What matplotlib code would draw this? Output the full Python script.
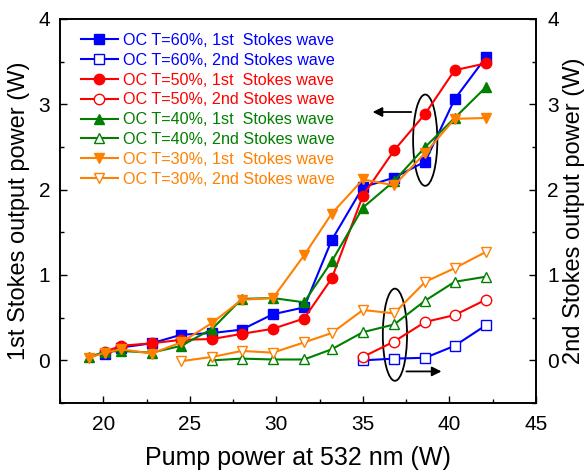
import matplotlib
matplotlib.use("Agg")
import matplotlib.pyplot as plt
from matplotlib.patches import Ellipse
from matplotlib.ticker import MultipleLocator

plt.rcParams['font.family'] = ['Liberation Sans', 'DejaVu Sans']

# pump power (W)
x_all = [19.2, 20.1, 21.0, 22.8, 24.5, 26.3, 28.0, 29.8, 31.6, 33.2, 35.0, 36.8, 38.6, 40.3, 42.1]

# 1st Stokes (left axis)
x_t60_1 = x_all[1:]
y_t60_1 = [0.07, 0.15, 0.20, 0.30, 0.32, 0.36, 0.54, 0.62, 1.41, 2.03, 2.14, 2.33, 3.06, 3.55]
x_t50_1 = x_all[1:]
y_t50_1 = [0.10, 0.17, 0.20, 0.24, 0.25, 0.31, 0.37, 0.49, 0.96, 1.93, 2.46, 2.89, 3.40, 3.48]
x_t40_1 = x_all
y_t40_1 = [0.04, 0.10, 0.11, 0.09, 0.17, 0.37, 0.72, 0.73, 0.68, 1.16, 1.79, 2.10, 2.50, 2.84, 3.20]
x_t30_1 = x_all
y_t30_1 = [0.03, 0.09, 0.13, 0.08, 0.21, 0.44, 0.71, 0.73, 1.23, 1.72, 2.12, 2.05, 2.43, 2.83, 2.84]

# 2nd Stokes (right axis)
x_t60_2 = [35.0, 36.8, 38.6, 40.3, 42.1]
y_t60_2 = [0.00, 0.02, 0.03, 0.17, 0.41]
x_t50_2 = [35.0, 36.8, 38.6, 40.3, 42.1]
y_t50_2 = [0.04, 0.22, 0.45, 0.53, 0.71]
x_t40_2 = [26.3, 28.0, 29.8, 31.6, 33.2, 35.0, 36.8, 38.6, 40.3, 42.1]
y_t40_2 = [0.00, 0.02, 0.01, 0.01, 0.13, 0.33, 0.42, 0.70, 0.92, 0.98]
x_t30_2 = [24.5, 26.3, 28.0, 29.8, 31.6, 33.2, 35.0, 36.8, 38.6, 40.3, 42.1]
y_t30_2 = [-0.01, 0.04, 0.11, 0.09, 0.21, 0.32, 0.59, 0.55, 0.92, 1.08, 1.27]

labels = ['OC T=60%, 1st  Stokes wave', 'OC T=60%, 2nd Stokes wave',
          'OC T=50%, 1st  Stokes wave', 'OC T=50%, 2nd Stokes wave',
          'OC T=40%, 1st  Stokes wave', 'OC T=40%, 2nd Stokes wave',
          'OC T=30%, 1st  Stokes wave', 'OC T=30%, 2nd Stokes wave']

c_blue = '#0000FF'
c_red = '#FF0000'
c_green = '#007F00'
c_orange = '#FF8000'

fig = plt.figure(figsize=(5.88, 4.72), dpi=100)
ax = fig.add_axes([60/588, 1-403/472, 476/588, 384/472])
ax2 = ax.twinx()

lw = 1.5
ms = 7.5
handles = []
specs1 = [(x_t60_1, y_t60_1, c_blue, 's'), (x_t50_1, y_t50_1, c_red, 'o'),
          (x_t40_1, y_t40_1, c_green, '^'), (x_t30_1, y_t30_1, c_orange, 'v')]
specs2 = [(x_t60_2, y_t60_2, c_blue, 's'), (x_t50_2, y_t50_2, c_red, 'o'),
          (x_t40_2, y_t40_2, c_green, '^'), (x_t30_2, y_t30_2, c_orange, 'v')]

for (xa, ya, c, m), (xb, yb, c2, m2) in zip(specs1, specs2):
    h1, = ax.plot(xa, ya, color=c, marker=m, ms=ms, lw=lw, mfc=c, mec=c)
    h2, = ax2.plot(xb, yb, color=c2, marker=m2, ms=ms, lw=lw, mfc='white', mec=c2, mew=1.0)
    handles += [h1, h2]

for a in (ax, ax2):
    a.set_ylim(-0.5, 4)
    a.yaxis.set_major_locator(MultipleLocator(1))
    a.yaxis.set_minor_locator(MultipleLocator(0.5))
ax.set_xlim(17.5, 45)
ax.xaxis.set_major_locator(MultipleLocator(5))
ax.xaxis.set_minor_locator(MultipleLocator(2.5))

ax.tick_params(axis='x', which='major', direction='in', length=5, width=1, labelsize=15, pad=9, top=False)
ax.tick_params(axis='y', which='major', direction='in', length=5, width=1, labelsize=15, pad=7)
ax.tick_params(axis='both', which='minor', direction='in', length=3, width=1, top=False)
ax2.tick_params(axis='y', which='major', direction='in', length=5, width=1, labelsize=15, pad=8)
ax2.tick_params(axis='y', which='minor', direction='in', length=3, width=1)
for a in (ax, ax2):
    for s in a.spines.values():
        s.set_linewidth(1.2)

ax.set_xlabel('Pump power at 532 nm (W)', fontsize=18, labelpad=8)
ax.set_ylabel('1st Stokes output power (W)', fontsize=17, labelpad=6)
ax2.set_ylabel('2nd Stokes output power (W)', fontsize=17, labelpad=3)

leg = ax.legend(handles, labels, loc='upper left', bbox_to_anchor=(0.02, 0.993),
                frameon=False, fontsize=11.6, handlelength=2.3, handletextpad=0.35,
                labelspacing=0.3, borderaxespad=0.3)
for t, h in zip(leg.get_texts(), handles):
    t.set_color(h.get_color())

# annotations: ellipses and arrows
ax.add_patch(Ellipse((38.6, 2.58), 1.4, 1.07, fill=False, ec='black', lw=1.3))
ax.annotate('', xy=(35.4, 2.91), xytext=(37.95, 2.91),
            arrowprops=dict(arrowstyle='-|>', color='black', lw=1.3, mutation_scale=14))
ax2.add_patch(Ellipse((36.85, 0.30), 1.4, 1.08, fill=False, ec='black', lw=1.3))
ax2.annotate('', xy=(39.7, -0.13), xytext=(37.35, -0.13),
             arrowprops=dict(arrowstyle='-|>', color='black', lw=1.3, mutation_scale=14))

fig.savefig('out.png', dpi=100)
